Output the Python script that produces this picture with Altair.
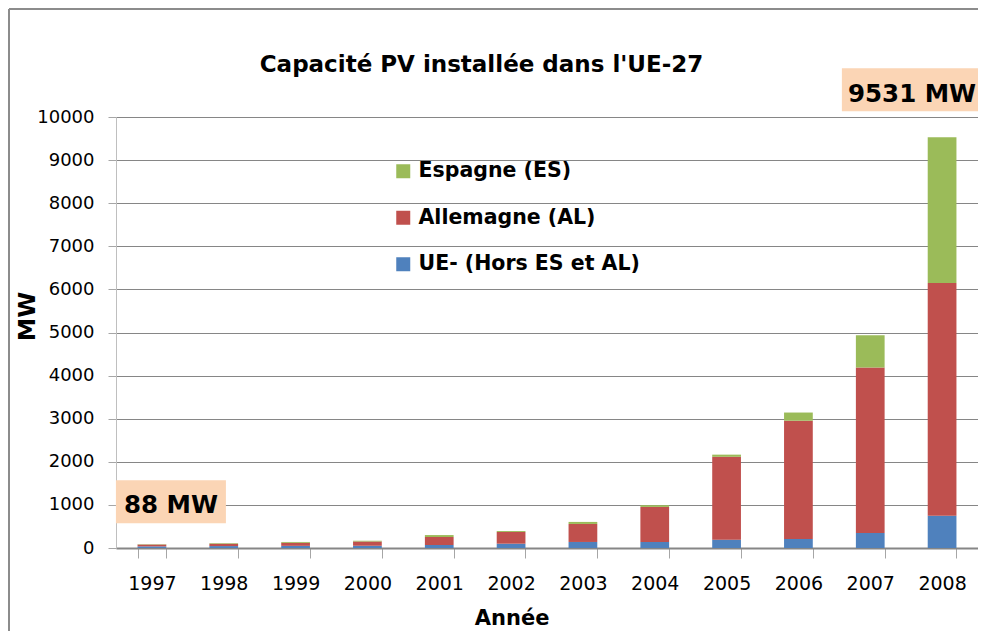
import altair as alt
import pandas as pd

# ---- data ----
years = ["1997", "1998", "1999", "2000", "2001", "2002",
         "2003", "2004", "2005", "2006", "2007", "2008"]
ue_hors = [38, 45, 50, 52, 70, 100, 140, 140, 193, 209, 349, 751]
allemagne = [42, 54, 70, 100, 185, 272, 418, 813, 1923, 2744, 3840, 5396]
espagne = [8, 14, 20, 18, 45, 22, 47, 40, 50, 190, 745, 3384]

series_names = ["Espagne (ES)", "Allemagne (AL)", "UE- (Hors ES et AL)"]
series_colors = ["#9BBB59", "#C0504D", "#4F81BD"]
stack_rank = {"UE- (Hors ES et AL)": 0, "Allemagne (AL)": 1, "Espagne (ES)": 2}

rows = []
for i, y in enumerate(years):
    for name, vals in (("UE- (Hors ES et AL)", ue_hors),
                       ("Allemagne (AL)", allemagne),
                       ("Espagne (ES)", espagne)):
        rows.append({"year": y, "serie": name, "value": vals[i], "rank": stack_rank[name]})
df = pd.DataFrame(rows)

totals = [ue_hors[i] + allemagne[i] + espagne[i] for i in range(len(years))]
ann = pd.DataFrame({"year": years, "value": totals,
                    "label": [f"{t} MW" for t in totals]})

FONT = "DejaVu Sans"
W, H = 862, 431

x_scale = alt.Scale(domain=years, paddingInner=0.6, paddingOuter=0.3)
x_axis = alt.Axis(title="Année", labelAngle=0, labelFont=FONT, labelFontSize=19,
                  labelColor="black", labelPadding=16, tickSize=10,
                  tickBand="extent", tickColor="#A6A6A6", domainColor="#868686",
                  domainWidth=2, grid=False, titleFont=FONT, titleFontSize=21,
                  titleFontWeight="bold", titleColor="black", titleX=395.6,
                  titleY=76, titleAlign="center", titleBaseline="alphabetic")

y_scale = alt.Scale(domain=[0, 10000], nice=False)
y_axis = alt.Axis(title="MW", values=list(range(0, 10001, 1000)), format="d",
                  labelFont=FONT, labelFontSize=18, labelColor="black",
                  labelPadding=14, tickSize=8, tickColor="#A6A6A6",
                  domainColor="#BFBFBF", gridColor="#868686", gridWidth=1,
                  titleFont=FONT, titleFontSize=23.5, titleFontWeight="bold",
                  titleColor="black", titleX=-89, titleY=199, titleAngle=270,
                  titleAlign="center", titleBaseline="middle")

x_enc = alt.X("year:O", scale=x_scale, axis=x_axis)

bars = alt.Chart(df).mark_bar().encode(
    x=x_enc,
    y=alt.Y("value:Q", stack="zero", scale=y_scale, axis=y_axis),
    color=alt.Color("serie:N",
                    scale=alt.Scale(domain=series_names, range=series_colors),
                    legend=alt.Legend(title=None, orient="none", legendX=277, legendY=44,
                                      symbolType="square", symbolSize=196,
                                      symbolStrokeWidth=0, labelFont=FONT,
                                      labelFontSize=20.5, labelFontWeight="bold",
                                      labelColor="black", labelOffset=5, rowPadding=25.5,
                                      labelLimit=500, padding=0)),
    order=alt.Order("rank:Q", sort="ascending"),
)

y_ann = alt.Y("value:Q", stack=None, scale=y_scale, axis=y_axis)
y2_ann = alt.Y2("value:Q")

base_ann = alt.Chart(ann)
first = base_ann.transform_filter(alt.datum.year == years[0])
last = base_ann.transform_filter(alt.datum.year == years[-1])

box_first = first.mark_rect(
    color="#FBD5B5", width=110, xOffset=19, yOffset=-64, y2Offset=-21
).encode(x=x_enc, y=y_ann, y2=y2_ann)

text_first = first.mark_text(
    font=FONT, fontSize=24.5, fontWeight="bold", color="black",
    align="center", baseline="alphabetic", dx=19, dy=-31.5
).encode(x=x_enc, y=y_ann, text="label:N")

box_last = last.mark_rect(
    color="#FBD5B5", width=143, xOffset=-28.7, yOffset=-69, y2Offset=-26
).encode(x=x_enc, y=y_ann, y2=y2_ann)

text_last = last.mark_text(
    font=FONT, fontSize=24.5, fontWeight="bold", color="black",
    align="center", baseline="alphabetic", dx=-30, dy=-35.5
).encode(x=x_enc, y=y_ann, text="label:N")

# chart frame: only its left and top edges fall inside the picture
one = alt.Data(values=[{}])
frame_left = alt.Chart(one).mark_rule(color="#8C8C8C", strokeWidth=2).encode(
    x=alt.value(-107), y=alt.value(-108), y2=alt.value(H + 84))
frame_top = alt.Chart(one).mark_rule(color="#8C8C8C", strokeWidth=2).encode(
    x=alt.value(-107), x2=alt.value(W), y=alt.value(-108))

chart = alt.layer(frame_left, frame_top, bars, box_first, text_first,
                  box_last, text_last).properties(
    width=W, height=H,
    autosize=alt.AutoSizeParams(type="none"),
    padding={"left": 108, "top": 109, "right": 0, "bottom": 83},
    title=alt.TitleParams(text="Capacité PV installée dans l'UE-27", font=FONT,
                          fontSize=23, fontWeight="bold", color="black",
                          anchor="middle", baseline="alphabetic", dx=-65.5,
                          offset=0, dy=87),
).configure_view(strokeWidth=0).configure(background="white")

chart.save("out.html", embed_options={"renderer": "svg", "actions": False})
